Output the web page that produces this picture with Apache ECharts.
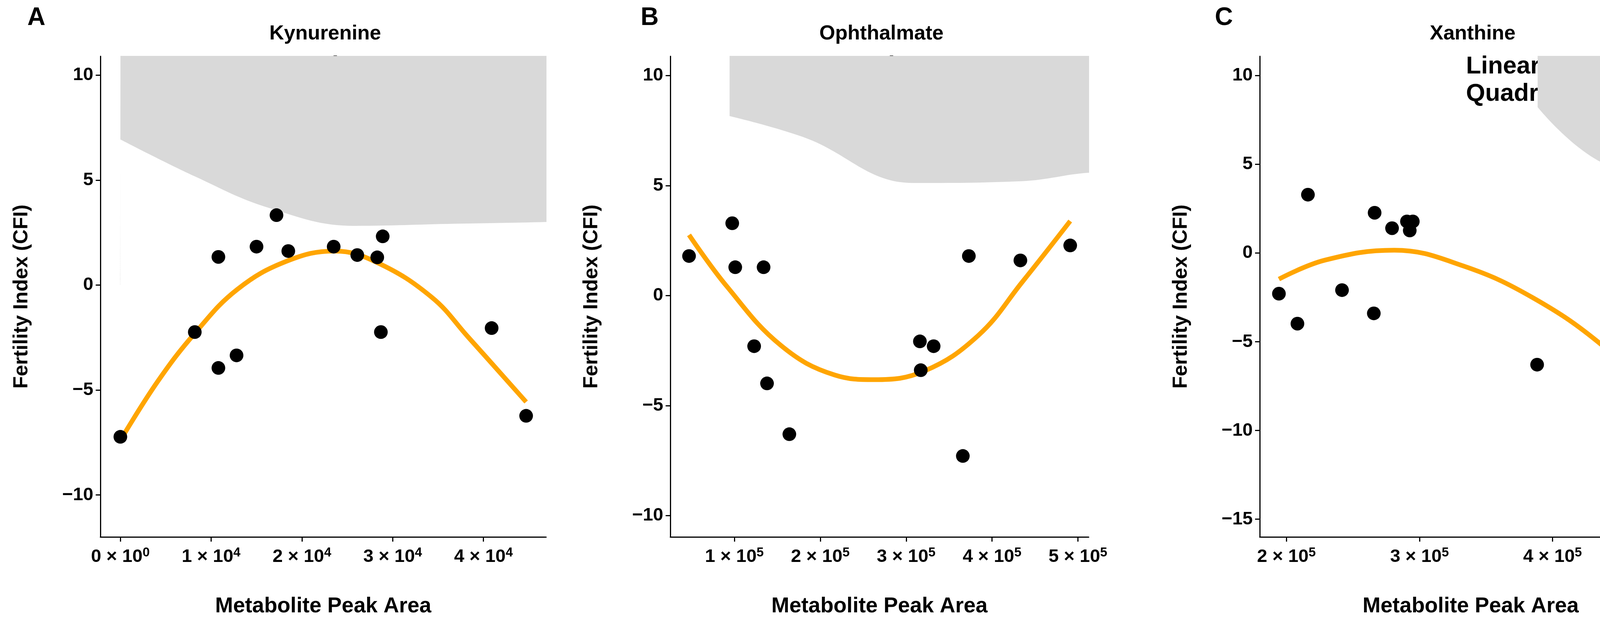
<!DOCTYPE html>
<html>
<head>
<meta charset="utf-8">
<script src="https://cdn.jsdelivr.net/npm/echarts@6/dist/echarts.min.js"></script>
<style>
  html, body { margin: 0; padding: 0; background: #fff; }
  #chart { width: 4318px; height: 1584px; }
</style>
</head>
<body>
<div id="chart"></div>
<script>
// Panel A - Kynurenine
var kynX = [0, 8200, 10800, 10800, 12800, 15000, 17200, 18500, 23500, 26100, 28300, 28900, 28700, 40900, 44700];
var kynY = [-7.23, -2.24, 1.34, -3.95, -3.35, 1.83, 3.33, 1.62, 1.83, 1.43, 1.32, 2.32, -2.24, -2.05, -6.23];
var kynFitX = [0, 4100, 8200, 12900, 18400, 23600, 28300, 34300, 38300, 44700];
var kynFit = [-7.4, -4.6, -2.3, -0.2, 1.15, 1.62, 1.07, -0.58, -2.47, -5.57];
var kynUp = [-4.0, -2.37, -0.77, 0.73, 2.34, 3.03, 2.71, 1.11, -0.3, -2.32];
var kynLo = [-10.94, -7.55, -4.44, -2.09, -0.58, 0.02, -0.43, -2.66, -4.82, -8.87];

// Panel B - Ophthalmate
var ophX = [47200, 97500, 101000, 134000, 123000, 138000, 164000, 316000, 332000, 317000, 366000, 373000, 433000, 491000];
var ophY = [1.8, 3.29, 1.29, 1.29, -2.3, -3.99, -6.3, -2.08, -2.3, -3.39, -7.29, 1.8, 1.6, 2.28];
var ophFitX = [47200, 91000, 154000, 217000, 263000, 321000, 384000, 435000, 491000];
var ophFit = [2.76, 0.43, -2.26, -3.61, -3.82, -3.43, -1.81, 0.61, 3.39];
var ophUp = [6.89, 5.1, 1.33, -0.65, -1.0, -0.74, 0.61, 3.12, 8.6];
var ophLo = [-1.27, -2.08, -3.79, -5.85, -6.6, -6.12, -4.15, -2.62, -1.63];

// Panel C - Xanthine
var xanX = [194400, 208300, 216200, 241800, 266300, 265700, 279400, 290600, 295000, 292700, 388400, 483000];
var xanY = [-2.29, -3.98, 3.29, -2.09, 2.27, -3.4, 1.4, 1.78, 1.78, 1.27, -6.29, -7.27];
var xanFitX = [194400, 229000, 281000, 333000, 385000, 437000, 483000];
var xanFit = [-1.47, -0.4, 0.16, -0.73, -2.51, -5.18, -8.51];
var xanUp = [2.6, 2.04, 2.6, 2.27, 0.6, -1.4, -2.44];
var xanLo = [-5.62, -2.62, -2.18, -3.4, -5.84, -9.84, -14.73];

var titles = ['Kynurenine', 'Ophthalmate', 'Xanthine'];
var letters = ['A', 'B', 'C'];
var pTexts = [
    ['Linear P < 0.001', 'Quadratic P < 0.001'],
    ['Linear P = 0.02', 'Quadratic P = 0.02'],
    ['Linear P < 0.05', 'Quadratic P < 0.05']
];
var xTicks = [[0, 10000, 20000, 30000, 40000], [100000, 200000, 300000, 400000, 500000], [200000, 300000, 400000]];
var yTicks = [[-10, -5, 0, 5, 10], [-10, -5, 0, 5, 10], [-15, -10, -5, 0, 5, 10]];
var xRange = [[-2200, 46900], [25400, 512500], [180000, 497000]];
var yRange = [[-12, 10.9], [-10.97, 10.88], [-16, 11.09]];

var panels = [
    { x: kynX, y: kynY, fx: kynFitX, f: kynFit, up: kynUp, lo: kynLo },
    { x: ophX, y: ophY, fx: ophFitX, f: ophFit, up: ophUp, lo: ophLo },
    { x: xanX, y: xanY, fx: xanFitX, f: xanFit, up: xanUp, lo: xanLo }
];
var grids = [
    { left: 257, width: 1141, top: 144, bottom: 200 },
    { left: 1716, width: 1071, top: 144, bottom: 200 },
    { left: 3225, width: 1080, top: 144, bottom: 200 }
];
var letterX = [70, 1640, 3110];

var FONT = 'Liberation Sans';

function sciLabel(v) {
    if (v === 0) return '{a|0 × 10}{s|0}';
    var e = Math.floor(Math.log10(Math.abs(v)) + 1e-9);
    var m = Math.round(v / Math.pow(10, e));
    return '{a|' + m + ' × 10}{s|' + e + '}';
}

var chart = echarts.init(document.getElementById('chart'));
var option = {
    backgroundColor: '#fff',
    animation: false,
    grid: [], xAxis: [], yAxis: [], series: [], title: [], graphic: []
};

panels.forEach(function (p, i) {
    var g = grids[i];
    option.grid.push({ left: g.left, width: g.width, top: g.top, bottom: g.bottom });
    option.xAxis.push({
        gridIndex: i, type: 'value', min: xRange[i][0], max: xRange[i][1],
        name: 'Metabolite Peak Area', nameLocation: 'middle', nameGap: 150,
        nameTextStyle: { fontFamily: FONT, fontWeight: 'bold', fontSize: 55, color: '#000' },
        splitLine: { show: false },
        axisLine: { onZero: false, lineStyle: { color: '#000', width: 3 } },
        axisTick: { customValues: xTicks[i], length: 12, lineStyle: { color: '#000', width: 3 } },
        axisLabel: {
            customValues: xTicks[i], margin: 24, formatter: sciLabel,
            rich: {
                a: { fontFamily: FONT, fontWeight: 'bold', fontSize: 47, color: '#000' },
                s: { fontFamily: FONT, fontWeight: 'bold', fontSize: 33, color: '#000', verticalAlign: 'top', padding: [0, 0, 22, 0] }
            }
        }
    });
    option.yAxis.push({
        gridIndex: i, type: 'value', min: yRange[i][0], max: yRange[i][1],
        name: 'Fertility Index (CFI)', nameLocation: 'middle', nameGap: 175,
        nameTextStyle: { fontFamily: FONT, fontWeight: 'bold', fontSize: 52, color: '#000' },
        splitLine: { show: false },
        axisLine: { onZero: false, lineStyle: { color: '#000', width: 3 } },
        axisTick: { customValues: yTicks[i], length: 12, lineStyle: { color: '#000', width: 3 } },
        axisLabel: {
            customValues: yTicks[i], margin: 18,
            fontFamily: FONT, fontWeight: 'bold', fontSize: 47, color: '#000',
            formatter: function (v) { return v < 0 ? '−' + Math.abs(v) : String(v); }
        }
    });
    // confidence band: invisible lower edge + stacked width filled
    option.series.push({
        type: 'line', xAxisIndex: i, yAxisIndex: i, stack: 'band' + i, smooth: 0.4,
        showSymbol: false, silent: true, z: 1, lineStyle: { opacity: 0 },
        data: p.fx.map(function (x, k) { return [x, p.lo[k]]; })
    });
    option.series.push({
        type: 'line', xAxisIndex: i, yAxisIndex: i, stack: 'band' + i, smooth: 0.4,
        showSymbol: false, silent: true, z: 1, lineStyle: { opacity: 0 },
        areaStyle: { color: '#d9d9d9', opacity: 1 },
        data: p.fx.map(function (x, k) { return [x, p.up[k] - p.lo[k]]; })
    });
    option.series.push({
        type: 'line', xAxisIndex: i, yAxisIndex: i, smooth: 0.4, showSymbol: false, z: 3,
        lineStyle: { color: '#FFA500', width: 12 },
        data: p.fx.map(function (x, k) { return [x, p.f[k]]; })
    });
    option.series.push({
        type: 'scatter', xAxisIndex: i, yAxisIndex: i, z: 4, symbolSize: 35,
        itemStyle: { color: '#000', opacity: 1 },
        data: p.x.map(function (x, k) { return [x, p.y[k]]; })
    });
    option.title.push({
        text: titles[i], left: g.left + g.width / 2, top: 56, textAlign: 'center',
        textStyle: { fontFamily: FONT, fontWeight: 'bold', fontSize: 52, color: '#000' }
    });
    option.graphic.push({
        type: 'text', right: 4318 - g.left - g.width + 4, top: 136,
        style: { text: pTexts[i].join('\n'), fontFamily: FONT, fontWeight: 'bold', fontSize: 63, lineHeight: 70, fill: '#000', align: 'right' }
    });
    option.graphic.push({
        type: 'text', left: letterX[i], top: 14,
        style: { text: letters[i], fontFamily: FONT, fontWeight: 'bold', fontSize: 64, fill: '#000' }
    });
});

chart.setOption(option);
window.addEventListener('resize', function () { chart.resize(); });
</script>
</body>
</html>
